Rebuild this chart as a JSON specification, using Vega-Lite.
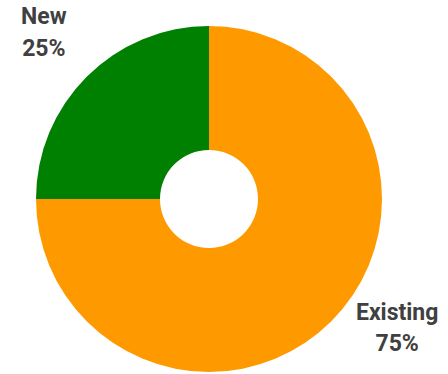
{
  "$schema": "https://vega.github.io/schema/vega-lite/v6.json",
  "width": 418,
  "height": 350,
  "autosize": {"type": "none"},
  "padding": {"left": 0, "top": 24, "right": 30, "bottom": 0},
  "background": "white",
  "view": {"stroke": null},
  "data": {
    "values": [
      {"category": "Existing", "value": 75, "label": "Existing\n75%"},
      {"category": "New", "value": 25, "label": "New\n25%"}
    ]
  },
  "encoding": {
    "theta": {"field": "value", "type": "quantitative", "stack": true},
    "color": {
      "field": "category",
      "type": "nominal",
      "scale": {"domain": ["Existing", "New"], "range": ["#FF9900", "#008000"]},
      "legend": null
    }
  },
  "layer": [
    {"mark": {"type": "arc", "outerRadius": 173, "innerRadius": 49}},
    {
      "mark": {"type": "text", "radius": 235, "dx": 1, "dy": -16, "font": "Roboto", "fontWeight": "bold", "fontSize": 23, "lineBreak": "\n", "lineHeight": 32, "align": "center", "baseline": "middle"},
      "encoding": {
        "text": {"condition": {"test": "datum.category === 'New'", "field": "label"}, "value": ""},
        "color": {"value": "#404040"}
      }
    },
    {
      "mark": {"type": "text", "radius": 235, "dx": 22, "dy": -52, "font": "Roboto", "fontWeight": "bold", "fontSize": 23, "lineBreak": "\n", "lineHeight": 31, "align": "center", "baseline": "middle"},
      "encoding": {
        "text": {"condition": {"test": "datum.category === 'Existing'", "field": "label"}, "value": ""},
        "color": {"value": "#404040"}
      }
    }
  ]
}
